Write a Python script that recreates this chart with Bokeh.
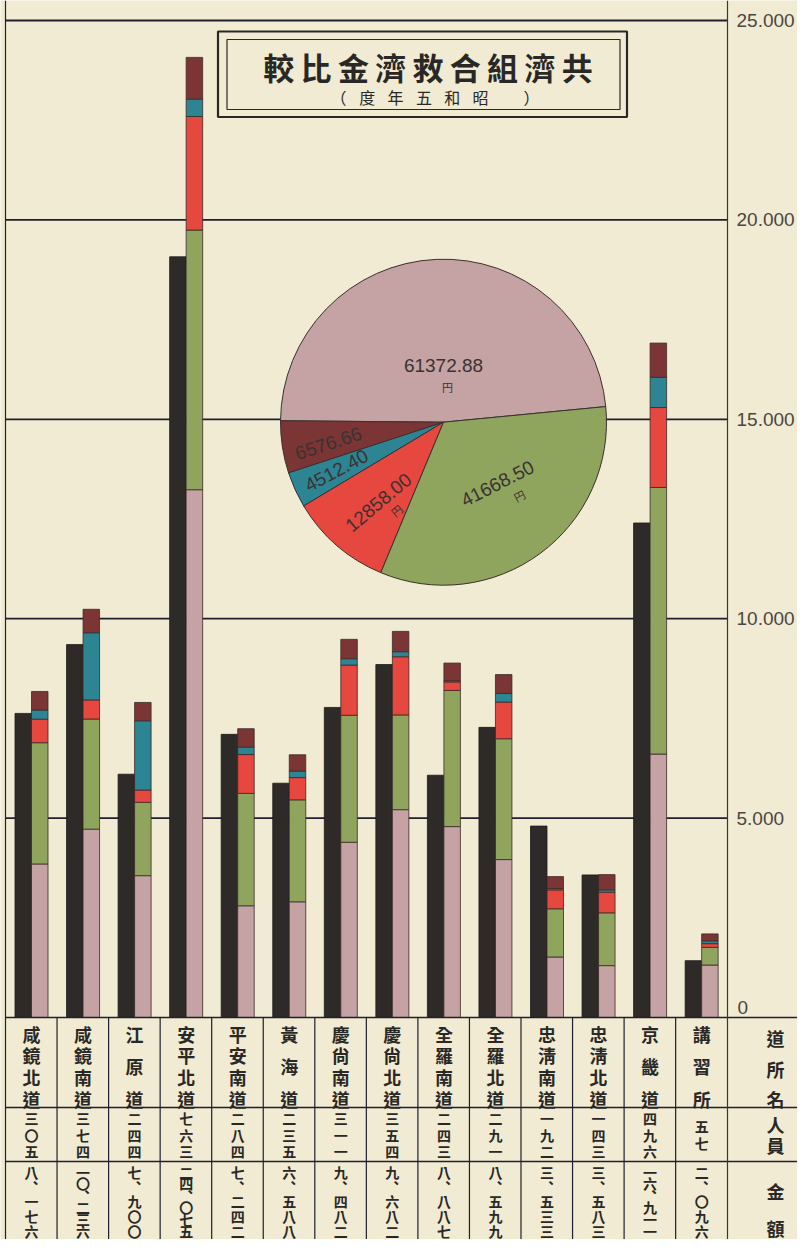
import math
from bokeh.plotting import figure
from bokeh.models import Range1d, LinearAxis, FixedTicker, ColumnDataSource
from bokeh.core.properties import value
from bokeh.embed import file_html
from bokeh.resources import INLINE

# ---------------- data ----------------
NAMES = ["咸鏡北道", "咸鏡南道", "江原道", "安平北道", "平安南道", "黃海道", "慶尙南道",
         "慶尙北道", "全羅南道", "全羅北道", "忠淸南道", "忠淸北道", "京畿道", "講習所"]
PERSONNEL = [305, 374, 244, 763, 284, 235, 311, 354, 243, 291, 192, 143, 496, 57]
PERSONNEL_LABELS = ["三〇五", "三七四", "二四四", "七六三", "二八四", "二三五", "三一一",
                    "三五四", "二四三", "二九一", "一九二", "一四三", "四九六", "五七"]
AMOUNT_LABELS = ["八、一七六", "一〇、二三六", "七、九〇〇", "二四、〇七五", "七、二四二",
                 "六、五八八", "九、四八二", "九、六八二", "八、八八七", "八、五九九",
                 "三、五三三", "三、五八三", "一六、九一一", "二、〇九六"]
PINK = [3850, 4723, 3557, 13234, 2801, 2901, 4394, 5212, 4787, 3960, 1517, 1301, 6606, 1315]
GREEN = [3040, 2761, 1837, 6511, 2818, 2557, 3184, 2375, 3413, 3030, 1209, 1324, 6684, 443]
RED = [590, 479, 311, 2848, 974, 558, 1258, 1459, 215, 920, 474, 518, 2005, 94]
TEAL = [230, 1684, 1736, 435, 186, 162, 161, 127, 31, 214, 36, 58, 758, 70]
MAROON = [466, 589, 459, 1047, 463, 410, 485, 509, 441, 475, 297, 382, 858, 174]

PIE_LABELS = ["61372.88", "6576.66", "4512.40", "12858.00", "41668.50"]
PIE_VALUES = [61372.88, 6576.66, 4512.40, 12858.00, 41668.50]

TICKS = [5000, 10000, 15000, 20000, 25000]
TICK_LABELS = ["5.000", "10.000", "15.000", "20.000", "25.000"]

TITLE = "共濟組合救濟金比較"
SUBTITLE = "昭和五年度"
HEADER = ["道所名", "人員", "金額"]

# ---------------- style ----------------
BG = "#f0ebd2"
C_BLACK = "#2e2a28"
C_PINK = "#c5a2a3"
C_GREEN = "#8fa55e"
C_RED = "#e6473f"
C_TEAL = "#2d8493"
C_MAROON = "#7b3535"
INK = "#2a2826"
LINE = "#1e2030"
CJK = "Noto Sans CJK TC"
NUM_FONT = "Liberation Sans"

W, H = 797, 1239


def X(rx):  # reference pixel x -> data x
    return (rx - 31.0) / 51.55


def Y(ry):  # reference pixel y -> data y
    return (1017.0 - ry) * 25000.0 / 997.0


p = figure(width=W, height=H, output_backend="svg", toolbar_location=None,
           x_range=Range1d(X(0), X(W)), y_range=Range1d(Y(H), Y(0)),
           x_axis_location=None, y_axis_location=None, min_border=0,
           background_fill_color=BG, border_fill_color=BG, outline_line_color=None)
p.xgrid.visible = False
p.ygrid.visible = False
p.extra_y_ranges = {"persons": Range1d(Y(H) / 25.0, Y(0) / 25.0)}

# left border
p.segment(x0=[X(5)], x1=[X(5)], y0=[Y(0)], y1=[Y(H)], line_color=LINE, line_width=1.2)

# grid lines (end at axis)
p.segment(x0=[X(5)] * len(TICKS), x1=[X(727)] * len(TICKS), y0=TICKS, y1=TICKS,
          line_color=LINE, line_width=1.8)

# right axis, drawn inside the frame
ax = LinearAxis(fixed_location=X(727), ticker=FixedTicker(ticks=TICKS),
                major_label_overrides={t: l for t, l in zip(TICKS, TICK_LABELS)},
                major_tick_in=0, major_tick_out=0, minor_tick_in=0, minor_tick_out=0,
                major_label_standoff=9, axis_line_color="#3a3634", axis_line_width=1.2,
                major_label_text_font=NUM_FONT, major_label_text_font_size="19px",
                major_label_text_color="#4a4642")
p.add_layout(ax, "right")
p.text(x=[X(737)], y=[Y(1007)], text=["0"], text_font=value(NUM_FONT),
       text_font_size="19px", text_color="#4a4642", text_align="left",
       text_baseline="middle")

# bars
xs = list(range(len(NAMES)))
bw = 16.5 / 51.55
p.vbar(x=[i - bw / 2 for i in xs], top=PERSONNEL, bottom=0, width=bw,
       y_range_name="persons", fill_color=C_BLACK, line_color="#1c1a19", line_width=0.8)
src = ColumnDataSource(dict(x=[i + bw / 2 for i in xs], pink=PINK, green=GREEN, red=RED,
                            teal=TEAL, maroon=MAROON))
p.vbar_stack(["pink", "green", "red", "teal", "maroon"], x="x", width=bw, source=src,
             fill_color=[C_PINK, C_GREEN, C_RED, C_TEAL, C_MAROON],
             line_color="#3a2a28", line_width=0.8)

# pie
total = sum(PIE_VALUES)
start = math.radians(5.5)
starts, ends = [], []
a = start
for v in PIE_VALUES:
    starts.append(a)
    a += 2 * math.pi * v / total
    ends.append(a)
p.wedge(x=X(443), y=Y(421.7), radius=163, radius_units="screen", start_angle=starts,
        end_angle=ends, fill_color=[C_PINK, C_MAROON, C_TEAL, C_RED, C_GREEN],
        line_color="#3a3030", line_width=1)

lab_pos = [(443, 365, 0), (328, 443, 18), (336, 470, 28), (378, 502, 40), (497, 483, 27)]
p.text(x=[X(q[0]) for q in lab_pos], y=[Y(q[1]) for q in lab_pos], text=PIE_LABELS,
       angle=[math.radians(q[2]) for q in lab_pos], text_font=value(NUM_FONT),
       text_font_size="19px", text_color="#3a3232", text_align="center",
       text_baseline="middle")
yen_pos = [(447, 386, 0), (396, 510, 40), (519, 495, 27)]
p.text(x=[X(q[0]) for q in yen_pos], y=[Y(q[1]) for q in yen_pos], text=["円"] * 3,
       angle=[math.radians(q[2]) for q in yen_pos], text_font=value(CJK),
       text_font_size="11px", text_color="#3a3232", text_align="center",
       text_baseline="middle")

# title box
p.quad(left=[X(217.5)], right=[X(626.5)], top=[Y(31)], bottom=[Y(116.5)],
       fill_color=None, line_color=INK, line_width=2.2)
p.quad(left=[X(226.5)], right=[X(619.5)], top=[Y(39)], bottom=[Y(109)],
       fill_color=None, line_color=INK, line_width=1.2)
tchars = list(TITLE)
n = len(tchars)
p.text(x=[X(576.7 - 37.3 * k) for k in range(n)], y=[Y(66)] * n, text=tchars,
       text_font=value(CJK), text_font_size="31px", text_font_style="bold",
       text_color=INK, text_align="center", text_baseline="middle")
schars = list(SUBTITLE)
m = len(schars)
p.text(x=[X(480 - 28.3 * k) for k in range(m)] + [X(338), X(531)], y=[Y(96)] * (m + 2),
       text=schars + ["（", "）"], text_font=value(CJK), text_font_size="16px",
       text_color=INK, text_align="center", text_baseline="middle")

# table lines
p.segment(x0=[X(5)] * 3, x1=[X(W)] * 3, y0=[Y(1017), Y(1107), Y(1161)],
          y1=[Y(1017), Y(1107), Y(1161)], line_color=LINE, line_width=1.6)
vx = [5 + 51.55 * k for k in range(1, 14)]
p.segment(x0=[X(v) for v in vx], x1=[X(v) for v in vx], y0=[Y(1017)] * len(vx),
          y1=[Y(H)] * len(vx), line_color=LINE, line_width=1.2)

# table text
tx, ty, tt = [], [], []
for i, name in enumerate(NAMES):
    k = len(name)
    for j, ch in enumerate(name):
        tx.append(X(31 + 51.55 * i))
        ty.append(Y(1033 + j * (1098 - 1033) / (k - 1)))
        tt.append(ch)
p.text(x=tx, y=ty, text=tt, text_font=value(CJK), text_font_size="18px",
       text_font_style="bold", text_color=INK, text_align="center", text_baseline="middle")

px_, py_, pt_ = [], [], []
for i, lab in enumerate(PERSONNEL_LABELS):
    k = len(lab)
    for j, ch in enumerate(lab):
        px_.append(X(31 + 51.55 * i))
        py_.append(Y(1134 + (j - (k - 1) / 2) * 16.5))
        pt_.append(ch)
p.text(x=px_, y=py_, text=pt_, text_font=value(CJK), text_font_size="14px",
       text_font_style="bold", text_color=INK, text_align="center", text_baseline="middle")

ax_, ay_, at_ = [], [], []
for i, lab in enumerate(AMOUNT_LABELS):
    k = len(lab)
    pitch = (1230.0 - 1171.0) / (k - 1)
    for j, ch in enumerate(lab):
        off = 4 if ch == "、" else 0
        ax_.append(X(31 + 51.55 * i + off))
        ay_.append(Y(1171.0 + j * pitch - off))
        at_.append(ch)
p.text(x=ax_, y=ay_, text=at_, text_font=value(CJK), text_font_size="14px",
       text_font_style="bold", text_color=INK, text_align="center", text_baseline="middle")

hy = [[1037, 1068, 1098], [1123, 1144], [1190, 1227]]
hx_, hy_, ht_ = [], [], []
for lab, ys in zip(HEADER, hy):
    for ch, yv in zip(lab, ys):
        hx_.append(X(775))
        hy_.append(Y(yv))
        ht_.append(ch)
p.text(x=hx_, y=hy_, text=ht_, text_font=value(CJK), text_font_size="18px",
       text_font_style="bold", text_color=INK, text_align="center", text_baseline="middle")

open("out.html", "w").write(file_html(p, INLINE))
